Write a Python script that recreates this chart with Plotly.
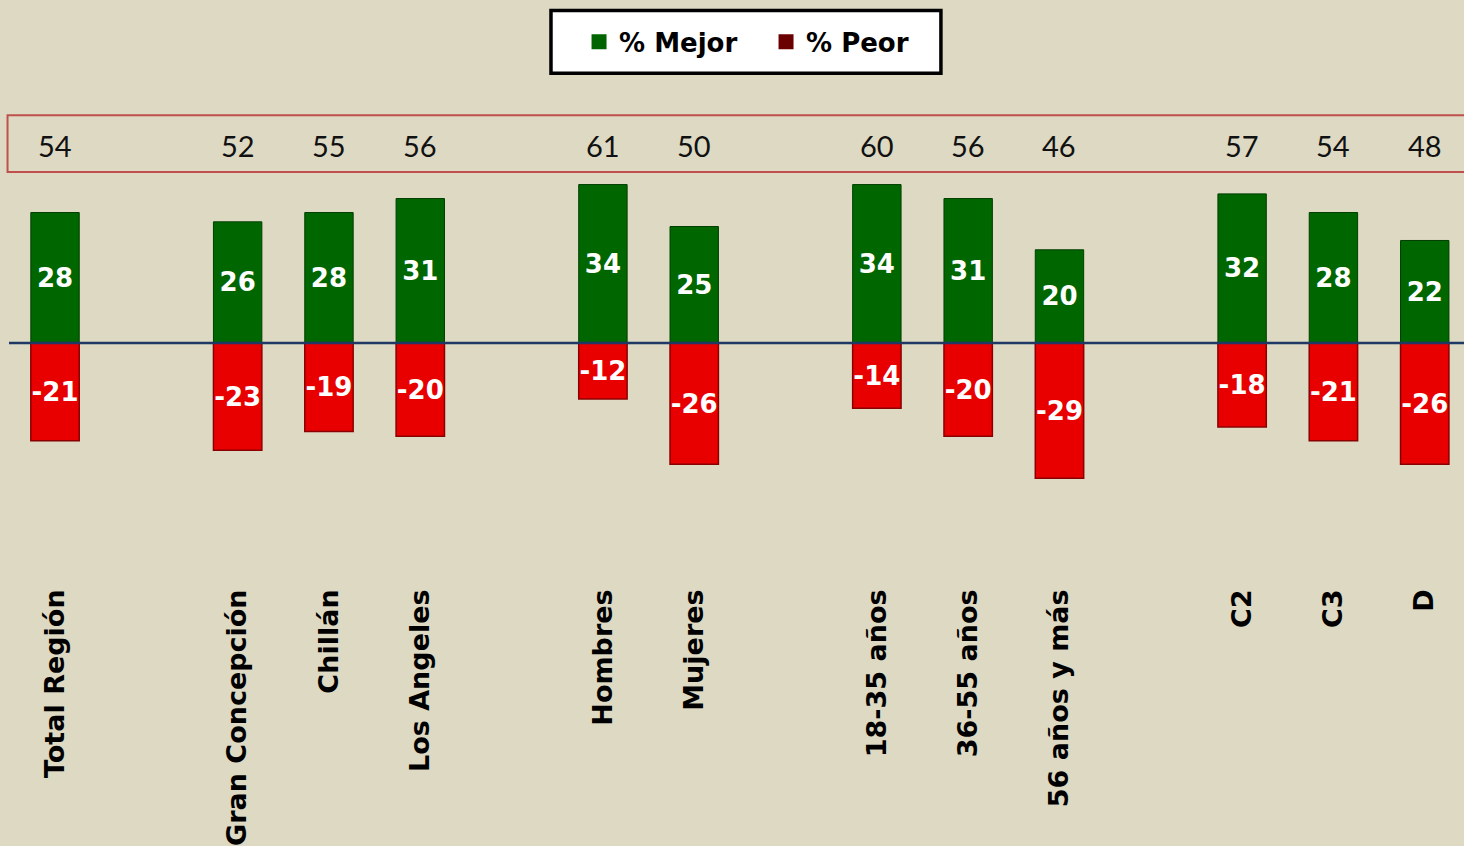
import plotly.graph_objects as go

# ---- data ----
groups = [
    ["Total Región"],
    ["Gran Concepción", "Chillán", "Los Angeles"],
    ["Hombres", "Mujeres"],
    ["18-35 años", "36-55 años", "56 años y más"],
    ["C2", "C3", "D"],
]
categories = [c for g in groups for c in g]
mejor = [28, 26, 28, 31, 34, 25, 34, 31, 20, 32, 28, 22]
peor = [-21, -23, -19, -20, -12, -26, -14, -20, -29, -18, -21, -26]
indice = [54, 52, 55, 56, 61, 50, 60, 56, 46, 57, 54, 48]

# category order with blank spacers between groups
order = []
for i, g in enumerate(groups):
    if i > 0:
        order.append(" " * i)
    order.extend(g)

BG = "#DDD9C3"
fig = go.Figure()

fig.add_trace(go.Bar(
    x=categories, y=mejor, name="% Mejor", showlegend=False,
    marker=dict(color="#006600", line=dict(color="#003F00", width=1)),
    text=[str(v) for v in mejor], textposition="inside", insidetextanchor="middle",
    constraintext="none", textangle=0,
    textfont=dict(family="DejaVu Sans", size=26, color="white", weight="bold"),
))
fig.add_trace(go.Bar(
    x=categories, y=peor, name="% Peor", showlegend=False,
    marker=dict(color="#E80000", line=dict(color="#8A0000", width=1.5)),
    text=[str(v) for v in peor], textposition="inside", insidetextanchor="middle",
    constraintext="none", textangle=0,
    textfont=dict(family="DejaVu Sans", size=26, color="white", weight="bold"),
))

# legend entries
fig.add_trace(go.Scatter(x=[None], y=[None], mode="markers", name="% Mejor",
                         marker=dict(symbol="square", size=15, color="#006400")))
fig.add_trace(go.Scatter(x=[None], y=[None], mode="markers", name="% Peor",
                         marker=dict(symbol="square", size=15, color="#6B0000")))

# top index values
for c, v in zip(categories, indice):
    fig.add_annotation(x=c, y=0.926, xref="x", yref="paper", text=str(v),
                       showarrow=False, yanchor="middle",
                       font=dict(family="Lato", size=29, color="#111111"))

fig.add_shape(type="rect", xref="paper", yref="paper", x0=-0.001, x1=1.01,
              y0=0.869, y1=0.989, line=dict(color="#C0504D", width=2),
              fillcolor="rgba(0,0,0,0)")
# legend frame
fig.add_shape(type="rect", xref="paper", yref="paper", x0=0.3725, x1=0.6405,
              y0=1.0779, y1=1.2105, line=dict(color="black", width=3.5),
              fillcolor="white", layer="below")
fig.add_shape(type="line", xref="paper", yref="y", x0=0, x1=1, y0=0, y1=0,
              line=dict(color="#1F3864", width=2.5), layer="above")

fig.update_layout(
    width=1464, height=846,
    paper_bgcolor=BG, plot_bgcolor=BG,
    margin=dict(l=9, r=0, t=110, b=261),
    barmode="relative", bargap=0.47,
    showlegend=True,
    legend=dict(orientation="h", x=0.5203, xanchor="center", y=1.1442, yanchor="middle",
                bgcolor="rgba(0,0,0,0)", borderwidth=0,
                font=dict(family="DejaVu Sans", size=26, color="black", weight="bold"),
                itemwidth=30, entrywidth=142, entrywidthmode="pixels"),
    xaxis=dict(type="category", categoryorder="array", categoryarray=order,
               range=[-0.504, 15.43], tickangle=-90, showgrid=False,
               showline=False, ticks="",
               tickfont=dict(family="DejaVu Sans", size=27, color="black", weight="bold")),
    yaxis=dict(range=[-51.5, 50], visible=False, showgrid=False, zeroline=False),
)

fig.write_html("out.html", config={"displayModeBar": False},
               post_script="document.body.style.margin='0';")
